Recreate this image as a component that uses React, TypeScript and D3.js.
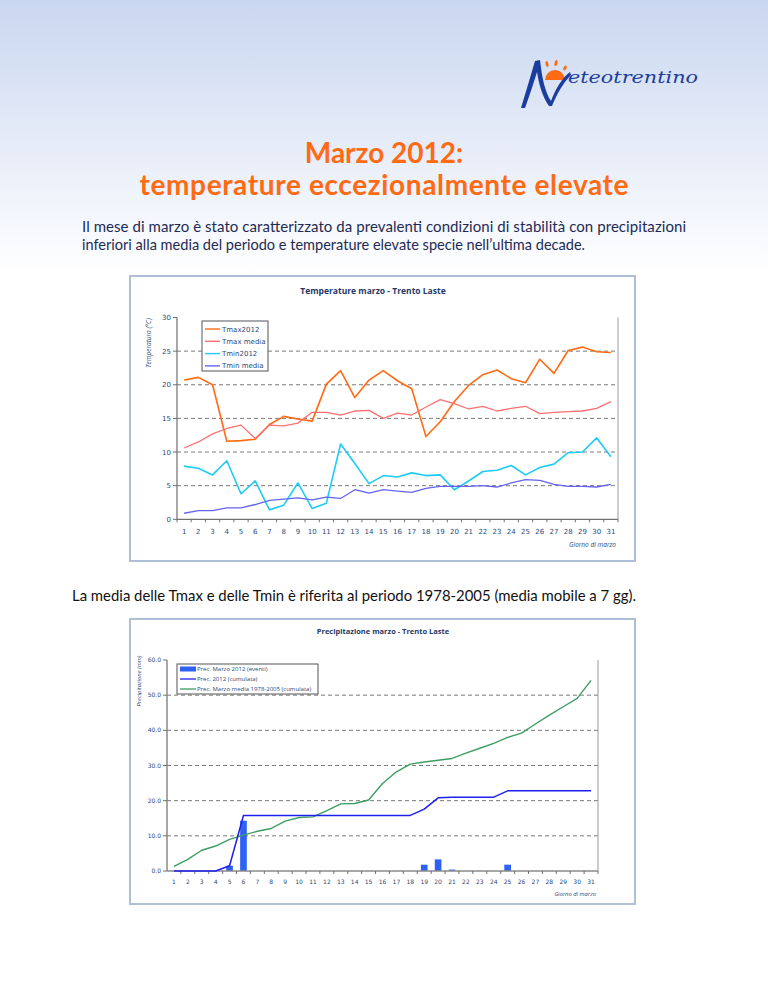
import React from 'react'
import * as d3 from 'd3'

// dati marzo 2012 - Trento Laste
const days = ['1','2','3','4','5','6','7','8','9','10','11','12','13','14','15','16','17','18','19','20','21','22','23','24','25','26','27','28','29','30','31']

const tmax2012 = [20.7, 21.1, 20.0, 11.6, 11.7, 11.9, 14.1, 15.3, 14.9, 14.6, 20.1, 22.1, 18.1, 20.7, 22.1, 20.6, 19.4, 12.3, 14.5, 17.5, 19.9, 21.5, 22.2, 20.9, 20.3, 23.8, 21.7, 25.1, 25.6, 24.9, 24.8]
const tmaxMedia = [10.6, 11.5, 12.7, 13.5, 14.0, 12.0, 14.0, 13.9, 14.3, 15.9, 15.9, 15.5, 16.1, 16.2, 15.0, 15.8, 15.5, 16.7, 17.8, 17.2, 16.4, 16.8, 16.1, 16.5, 16.8, 15.7, 15.9, 16.0, 16.1, 16.5, 17.5]
const tmin2012 = [7.9, 7.6, 6.6, 8.7, 3.8, 5.7, 1.4, 2.1, 5.4, 1.6, 2.4, 11.2, 8.3, 5.3, 6.5, 6.3, 6.9, 6.5, 6.6, 4.4, 5.7, 7.1, 7.3, 8.0, 6.6, 7.7, 8.2, 9.9, 10.0, 12.1, 9.3]
const tminMedia = [0.9, 1.3, 1.3, 1.7, 1.7, 2.2, 2.8, 3.0, 3.2, 2.9, 3.3, 3.1, 4.4, 3.9, 4.4, 4.2, 4.0, 4.6, 4.9, 4.9, 4.9, 5.0, 4.8, 5.4, 5.9, 5.8, 5.2, 4.9, 4.9, 4.8, 5.2]

const precEventi = [0, 0, 0, 0, 1.5, 14.3, 0, 0, 0, 0, 0, 0, 0, 0, 0, 0, 0, 0, 1.8, 3.3, 0.4, 0, 0, 0, 1.8, 0, 0, 0, 0, 0, 0]
const precCumulata = [0, 0, 0, 0, 1.5, 15.8, 15.8, 15.8, 15.8, 15.8, 15.8, 15.8, 15.8, 15.8, 15.8, 15.8, 15.8, 15.8, 17.6, 20.8, 21.0, 21.0, 21.0, 21.0, 22.8, 22.8, 22.8, 22.8, 22.8, 22.8, 22.8]
const precMedia = [1.3, 3.3, 5.9, 7.1, 9.0, 10.2, 11.3, 12.1, 14.2, 15.2, 15.4, 17.2, 19.1, 19.2, 20.2, 24.9, 28.2, 30.4, 31.0, 31.5, 32.0, 33.5, 34.9, 36.3, 38.0, 39.2, 41.8, 44.3, 46.7, 49.1, 54.2]

const tempTicks = [0, 5, 10, 15, 20, 25, 30]
const precTicks = [0, 10, 20, 30, 40, 50, 60]

const tempSeries = [
  { name: 'Tmax2012', values: tmax2012, color: '#FF6A13', w: 1.6 },
  { name: 'Tmax media', values: tmaxMedia, color: '#FF6F6F', w: 1.3 },
  { name: 'Tmin2012', values: tmin2012, color: '#1ECBF7', w: 1.6 },
  { name: 'Tmin media', values: tminMedia, color: '#6464F0', w: 1.3 },
]

const axisFont = 'DejaVu Sans, Verdana, sans-serif'
const tickColor = '#2B4A78'

const TempChart = () => {
  const x = d3.scaleBand().domain(days).range([177, 618])
  const y = d3.scaleLinear().domain([0, 30]).range([519.3, 317.5])
  const cx = (i: number) => (x(days[i]) || 0) + x.bandwidth() / 2
  const line = d3.line<number>().x((_, i) => cx(i)).y(d => y(d))
  return (
    <g>
      <rect x={130} y={276} width={505} height={285} fill="#fff" stroke="#AFC0D6" strokeWidth={2} />
      <text x={373} y={294} textAnchor="middle" fontFamily="Open Sans, sans-serif" fontWeight="bold" fontSize={8.5} fill="#1F3A66">Temperature marzo - Trento Laste</text>
      {tempTicks.filter(t => t > 0 && t < 30).map(t => (
        <line key={t} x1={177} x2={618} y1={y(t)} y2={y(t)} stroke="#7a7a7a" strokeDasharray="4,3" strokeWidth={1} />
      ))}
      <line x1={618} x2={618} y1={y(30)} y2={y(0)} stroke="#9a9a9a" />
      <line x1={177} x2={177} y1={y(30)} y2={y(0)} stroke="#707070" strokeWidth={1.2} />
      <line x1={177} x2={618} y1={y(0)} y2={y(0)} stroke="#707070" strokeWidth={1.2} />
      {tempTicks.map(t => (
        <g key={t}>
          <line x1={173} x2={177} y1={y(t)} y2={y(t)} stroke="#707070" />
          <text x={171} y={y(t) + 2.5} textAnchor="end" fontFamily={axisFont} fontSize={7} fill={tickColor}>{t}</text>
        </g>
      ))}
      {days.map((d, i) => (
        <g key={d}>
          <line x1={x(d)! + x.bandwidth()} x2={x(d)! + x.bandwidth()} y1={y(0)} y2={y(0) + 3} stroke="#707070" />
          <text x={cx(i)} y={534} textAnchor="middle" fontFamily={axisFont} fontSize={7} fill={tickColor}>{d}</text>
        </g>
      ))}
      <line x1={177} x2={177} y1={y(0)} y2={y(0) + 3} stroke="#707070" />
      <text x={616} y={547} textAnchor="end" fontFamily="Open Sans, sans-serif" fontStyle="italic" fontSize={6.5} fill={tickColor}>Giorno di marzo</text>
      <text transform={`translate(151,343) rotate(-90)`} textAnchor="middle" fontFamily="Open Sans, sans-serif" fontStyle="italic" fontSize={6.5} fill={tickColor}>Temperatura (°C)</text>
      {tempSeries.map(s => (
        <path key={s.name} d={line(s.values) || ''} fill="none" stroke={s.color} strokeWidth={s.w} strokeLinejoin="round" />
      ))}
      <rect x={202} y={321} width={66} height={50} fill="#fff" stroke="#555" strokeWidth={1} />
      {tempSeries.map((s, i) => (
        <g key={s.name}>
          <line x1={205} x2={220} y1={329 + i * 12.3} y2={329 + i * 12.3} stroke={s.color} strokeWidth={1.4} />
          <text x={222} y={331.5 + i * 12.3} fontFamily={axisFont} fontSize={7} fill={tickColor}>{s.name}</text>
        </g>
      ))}
    </g>
  )
}

const PrecChart = () => {
  const x = d3.scaleBand().domain(days).range([167, 598])
  const y = d3.scaleLinear().domain([0, 60]).range([871, 660])
  const cx = (i: number) => (x(days[i]) || 0) + x.bandwidth() / 2
  const line = d3.line<number>().x((_, i) => cx(i)).y(d => y(d))
  const barW = x.bandwidth() * 0.48
  const legend = [
    { name: 'Prec. Marzo 2012 (eventi)', color: '#2E62F5', bar: true },
    { name: 'Prec. 2012 (cumulata)', color: '#1F1FF0', bar: false },
    { name: 'Prec. Marzo media 1978-2005 (cumulata)', color: '#3C9E62', bar: false },
  ]
  return (
    <g>
      <rect x={130} y={619} width={505} height={285} fill="#fff" stroke="#AFC0D6" strokeWidth={2} />
      <text x={383} y={634} textAnchor="middle" fontFamily="Open Sans, sans-serif" fontWeight="bold" fontSize={7.5} fill="#1F3A66">Precipitazione marzo - Trento Laste</text>
      {precTicks.filter(t => t > 0 && t < 60).map(t => (
        <line key={t} x1={167} x2={598} y1={y(t)} y2={y(t)} stroke="#7a7a7a" strokeDasharray="4,3" strokeWidth={1} />
      ))}
      <line x1={598} x2={598} y1={y(60)} y2={y(0)} stroke="#9a9a9a" />
      <line x1={167} x2={167} y1={y(60)} y2={y(0)} stroke="#8a8a8a" strokeWidth={1.5} />
      {precTicks.map(t => (
        <g key={t}>
          <line x1={163} x2={167} y1={y(t)} y2={y(t)} stroke="#707070" />
          <text x={161} y={y(t) + 2} textAnchor="end" fontFamily={axisFont} fontSize={6} fill={tickColor}>{t.toFixed(1)}</text>
        </g>
      ))}
      {precEventi.map((v, i) => v > 0 && (
        <rect key={i} x={cx(i) - barW / 2} y={y(v)} width={barW} height={y(0) - y(v)} fill="#2E62F5" />
      ))}
      <line x1={167} x2={598} y1={y(0)} y2={y(0)} stroke="#8a8a8a" strokeWidth={1.5} />
      {days.map((d, i) => (
        <g key={d}>
          <line x1={x(d)! + x.bandwidth()} x2={x(d)! + x.bandwidth()} y1={y(0)} y2={y(0) + 3} stroke="#707070" />
          <text x={cx(i)} y={884} textAnchor="middle" fontFamily={axisFont} fontSize={6} fill={tickColor}>{d}</text>
        </g>
      ))}
      <text x={596} y={896} textAnchor="end" fontFamily="Open Sans, sans-serif" fontStyle="italic" fontSize={5.8} fill={tickColor}>Giorno di marzo</text>
      <text transform={`translate(141,681) rotate(-90)`} textAnchor="middle" fontFamily="Open Sans, sans-serif" fontStyle="italic" fontSize={5.8} fill={tickColor}>Precipitazione (mm)</text>
      <path d={line(precMedia) || ''} fill="none" stroke="#3C9E62" strokeWidth={1.4} strokeLinejoin="round" />
      <path d={line(precCumulata) || ''} fill="none" stroke="#1F1FF0" strokeWidth={1.5} strokeLinejoin="round" />
      <rect x={177} y={664} width={141} height={30} fill="#fff" stroke="#555" strokeWidth={1} />
      {legend.map((s, i) => (
        <g key={s.name}>
          {s.bar
            ? <rect x={180} y={666.5 + i * 10} width={16} height={5} fill={s.color} />
            : <line x1={180} x2={196} y1={669 + i * 10} y2={669 + i * 10} stroke={s.color} strokeWidth={1.3} />}
          <text x={197} y={671 + i * 10} fontFamily="Open Sans, sans-serif" fontSize={6} fill={tickColor}>{s.name}</text>
        </g>
      ))}
    </g>
  )
}

const Logo = () => (
  <g>
    <circle cx={555} cy={80} r={10} fill="#FF6A13" clipPath="url(#sunClip)" />
    <ellipse cx={547} cy={64} rx={1.5} ry={3} fill="#FF6A13" transform="rotate(-10 547 64)" />
    <ellipse cx={556} cy={63} rx={1.5} ry={3} fill="#FF6A13" transform="rotate(15 556 63)" />
    <ellipse cx={565} cy={68} rx={1.5} ry={2.6} fill="#FF6A13" transform="rotate(30 565 68)" />
    <path d="M521,108 C525,95 530,78 535,61 L540,60 C542,78 545,92 551,101 C556,88 562,78 570,72 L571,75 C563,83 557,94 552,106 L549,106 C542,96 539,84 537,72 C533,85 529,97 525,108 Z" fill="#1B3D9E" />
    <text x={568} y={83} fontFamily="DejaVu Serif, serif" fontStyle="italic" fontSize={17} fill="#1B3D9E" textLength={130} lengthAdjust="spacingAndGlyphs">eteotrentino</text>
  </g>
)

export default function App() {
  return (
    <svg width={768} height={994} style={{ position: 'absolute', left: 0, top: 0, background: '#fff' }}>
      <defs>
        <linearGradient id="bg" x1="0" y1="0" x2="0" y2="1">
          <stop offset="0" stopColor="#CAD7F0" />
          <stop offset="1" stopColor="#FFFFFF" />
        </linearGradient>
        <clipPath id="sunClip">
          <rect x={540} y={66} width={30} height={14} />
        </clipPath>
      </defs>
      <rect x={0} y={0} width={768} height={275} fill="url(#bg)" />
      <Logo />
      <text x={384} y={163} textAnchor="middle" fontFamily="Lato, sans-serif" fontWeight="bold" fontSize={28} fill="#FF6A13">Marzo 2012:</text>
      <text x={384} y={195} textAnchor="middle" fontFamily="Lato, sans-serif" fontWeight="bold" fontSize={28} fill="#FF6A13" textLength={489}>temperature eccezionalmente elevate</text>
      <text x={82} y={232} fontFamily="Lato, sans-serif" fontSize={15} fill="#1E2B55" textLength={604} lengthAdjust="spacing">Il mese di marzo è stato caratterizzato da prevalenti condizioni di stabilità con precipitazioni</text>
      <text x={82} y={250} fontFamily="Lato, sans-serif" fontSize={15} fill="#1E2B55" textLength={503} lengthAdjust="spacingAndGlyphs">inferiori alla media del periodo e temperature elevate specie nell’ultima decade.</text>
      <TempChart />
      <text x={72} y={601} fontFamily="Lato, sans-serif" fontSize={15} fill="#111" textLength={564} lengthAdjust="spacingAndGlyphs">La media delle Tmax e delle Tmin è riferita al periodo 1978-2005 (media mobile a 7 gg).</text>
      <PrecChart />
    </svg>
  )
}
